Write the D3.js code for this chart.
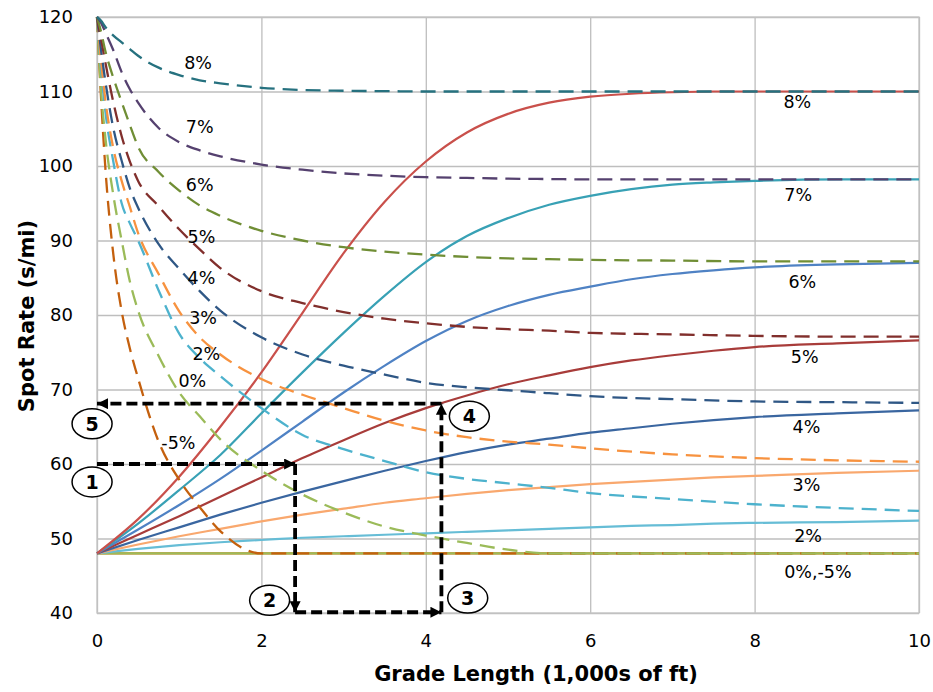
<!DOCTYPE html>
<html>
<head>
<meta charset="utf-8">
<script src="https://cdn.jsdelivr.net/npm/d3@7"></script>
<style>
  body { margin: 0; background: #fff; }
  svg { display: block; font-family: "DejaVu Sans", Verdana, sans-serif; }
</style>
</head>
<body>
<div id="chart"></div>
<script>
const lengthsFast = [0, 0.5, 1, 1.5, 2, 2.5, 3, 3.5, 4, 4.5, 5, 5.5, 6, 6.5, 7, 7.5, 8, 9, 10];
const lengthsSlow = [0, 0.05, 0.1, 0.2, 0.3, 0.4, 0.5, 0.75, 1, 1.25, 1.5, 2, 2.5, 3, 3.5, 4, 4.5, 5, 5.5, 6, 7, 8, 9, 10];

const grades = ["8%", "7%", "6%", "5%", "4%", "3%", "2%", "0%", "-5%"];

// truck entering the grade at 48 s/mi (solid lines)
const fast8 = [48, 52.6, 58.3, 65, 72.3, 80.3, 88.3, 95.2, 100.6, 104.5, 107, 108.5, 109.3, 109.7, 109.9, 110, 110, 110, 110];
const fast7 = [48, 52, 56.5, 61.2, 66.8, 72.3, 77.6, 82.6, 87.1, 90.6, 93, 94.8, 96, 96.9, 97.5, 97.8, 98, 98.2, 98.2];
const fast6 = [48, 51.2, 54.5, 58, 61.8, 65.7, 69.6, 73.2, 76.5, 79.2, 81.2, 82.7, 83.8, 84.8, 85.5, 86, 86.4, 86.8, 87];
const fast5 = [48, 50.5, 53, 55.6, 58.2, 60.8, 63.2, 65.5, 67.5, 69.2, 70.7, 71.9, 73, 73.9, 74.6, 75.2, 75.7, 76.2, 76.6];
const fast4 = [48, 49.8, 51.5, 53.2, 54.8, 56.3, 57.7, 59.1, 60.4, 61.6, 62.6, 63.4, 64.2, 64.8, 65.4, 65.9, 66.3, 66.8, 67.2];
const fast3 = [48, 49.2, 50.3, 51.3, 52.3, 53.2, 54, 54.8, 55.4, 56, 56.5, 56.9, 57.3, 57.6, 57.9, 58.2, 58.4, 58.8, 59.1];
const fast2 = [48, 48.6, 49.1, 49.5, 49.8, 50.1, 50.3, 50.5, 50.7, 50.9, 51.1, 51.3, 51.5, 51.7, 51.8, 52, 52.1, 52.2, 52.4];
const fast0 = [48, 48, 48, 48, 48, 48, 48, 48, 48, 48, 48, 48, 48, 48, 48, 48, 48, 48, 48];
const fastM5 = [48, 48, 48, 48, 48, 48, 48, 48, 48, 48, 48, 48, 48, 48, 48, 48, 48, 48, 48];

// truck entering the grade at 120 s/mi (dashed lines)
const slow8 = [120, 119.5, 118.7, 117.5, 116.6, 115.7, 114.8, 113.2, 112.2, 111.5, 111.1, 110.5, 110.2, 110.1, 110.05, 110, 110, 110, 110, 110, 110, 110, 110, 110];
const slow7 = [120, 119.2, 118, 115.5, 112.6, 110.3, 108.5, 105.1, 103.2, 102.1, 101.3, 100.2, 99.5, 99, 98.7, 98.5, 98.4, 98.3, 98.25, 98.2, 98.2, 98.2, 98.2, 98.2];
const slow6 = [120, 118, 115.5, 111.8, 108.6, 105.5, 102.6, 99.2, 96.7, 94.7, 93.3, 91.3, 90, 89.1, 88.5, 88.1, 87.8, 87.6, 87.5, 87.4, 87.3, 87.2, 87.2, 87.2];
const slow5 = [120, 117, 114, 108.5, 104, 100.6, 98, 94.6, 91.5, 88.8, 86.3, 83.2, 81.6, 80.4, 79.5, 78.9, 78.4, 78.1, 77.9, 77.6, 77.4, 77.2, 77.1, 77.1];
const slow4 = [120, 115.5, 111.5, 105, 100.7, 97, 94.4, 89.5, 86.2, 83.2, 80.6, 77, 74.7, 73.2, 72, 70.9, 70.3, 69.9, 69.5, 69.1, 68.7, 68.4, 68.3, 68.2];
const slow3 = [120, 114, 109, 102.3, 98, 94.5, 91, 85.5, 80.5, 77, 74.7, 71.4, 69.3, 67.5, 65.8, 64.5, 63.6, 63, 62.6, 62.1, 61.3, 60.8, 60.5, 60.3];
const slow2 = [120, 113, 107.5, 100.5, 95, 92.3, 90, 83.3, 77.5, 74.2, 71.8, 67.5, 63.9, 62, 60.4, 58.9, 58, 57.4, 56.8, 56.1, 55.3, 54.6, 54.1, 53.7];
const slow0 = [120, 110, 104, 96, 90, 84.5, 80.6, 74.5, 69.6, 66.4, 63.3, 59.1, 55.9, 53.5, 51.6, 50.4, 49.4, 48.5, 48, 48, 48, 48, 48, 48];
const slowM5 = [120, 109, 100, 88, 80.5, 75.5, 71.5, 63, 57.9, 54.2, 51, 48, 48, 48, 48, 48, 48, 48, 48, 48, 48, 48, 48, 48];

const xTicks = [0, 2, 4, 6, 8, 10];
const yTicks = [40, 50, 60, 70, 80, 90, 100, 110, 120];

// curve labels, in data units
const leftLabels = [
  {text: "8%", x: 1.23, y: 113.8}, {text: "7%", x: 1.25, y: 105.2}, {text: "6%", x: 1.25, y: 97.4},
  {text: "5%", x: 1.27, y: 90.5}, {text: "4%", x: 1.27, y: 85.0}, {text: "3%", x: 1.29, y: 79.6},
  {text: "2%", x: 1.33, y: 74.8}, {text: "0%", x: 1.16, y: 71.1}, {text: "-5%", x: 0.99, y: 62.8}
];
const rightLabels = [
  {text: "8%", x: 8.52, y: 108.6}, {text: "7%", x: 8.53, y: 96.1}, {text: "6%", x: 8.58, y: 84.4},
  {text: "5%", x: 8.61, y: 74.4}, {text: "4%", x: 8.63, y: 65.0}, {text: "3%", x: 8.63, y: 57.2},
  {text: "2%", x: 8.65, y: 50.3}, {text: "0%,-5%", x: 8.77, y: 45.5}
];

// worked example: the five steps
const steps = [
  {from: [0, 60], to: [2.41, 60]},
  {from: [2.41, 60], to: [2.41, 40.1]},
  {from: [2.41, 40.1], to: [4.19, 40.1]},
  {from: [4.19, 40.1], to: [4.19, 68.1]},
  {from: [4.19, 68.1], to: [0, 68.1]}
];
const stepBadges = [
  {n: "1", x: -0.06, y: 57.6}, {n: "2", x: 2.10, y: 41.7}, {n: "3", x: 4.51, y: 42.0},
  {n: "4", x: 4.53, y: 66.4}, {n: "5", x: -0.06, y: 65.4}
];

const fastColors = ["#C9504B", "#38A1B5", "#4F82C4", "#A83C3A", "#3A66A0", "#F9A86E", "#66BDD6", "#9BBB59", "#E46C0A"];
const slowColors = ["#26717F", "#55416F", "#708E35", "#812F2C", "#2F5785", "#F7923F", "#4DB2CD", "#9BBB59", "#C4600E"];

var chart = {};
chart.margins = {top: 17, right: 14, bottom: 79, left: 97};
chart.w = 933 - chart.margins.left - chart.margins.right;
chart.h = 692 - chart.margins.top - chart.margins.bottom;

chart.run = function () {
  let svg = d3.select("#chart").append("svg")
    .attr("width", 933)
    .attr("height", 692);

  let g = svg.append("g")
    .attr("transform", "translate(" + chart.margins.left + "," + chart.margins.top + ")");

  let x = d3.scaleLinear().domain([0, 10]).range([0, chart.w]);
  let y = d3.scaleLinear().domain([40, 120]).range([chart.h, 0]);

  // grid
  g.append("g")
    .attr("class", "grid")
    .attr("transform", "translate(0," + chart.h + ")")
    .call(d3.axisBottom(x).tickValues(xTicks).tickSize(-chart.h).tickFormat(""))
    .call(s => s.select(".domain").remove());
  g.append("g")
    .attr("class", "grid")
    .call(d3.axisLeft(y).tickValues(yTicks).tickSize(-chart.w).tickFormat(""))
    .call(s => s.select(".domain").remove());
  g.selectAll(".grid line").attr("stroke", "#BEBEBE").attr("stroke-width", 1.3);
  g.append("rect")
    .attr("width", chart.w).attr("height", chart.h)
    .attr("fill", "none").attr("stroke", "#C4C4C4").attr("stroke-width", 1.3);

  // tick labels
  g.append("g")
    .attr("transform", "translate(0," + chart.h + ")")
    .call(d3.axisBottom(x).tickValues(xTicks).tickSize(0).tickPadding(21))
    .call(s => s.select(".domain").remove())
    .selectAll("text").attr("font-size", 18).attr("font-family", "DejaVu Sans").attr("fill", "#000");
  g.append("g")
    .call(d3.axisLeft(y).tickValues(yTicks).tickSize(0).tickPadding(24))
    .call(s => s.select(".domain").remove())
    .selectAll("text").attr("font-size", 18).attr("font-family", "DejaVu Sans").attr("fill", "#000");

  // axis titles
  svg.append("text")
    .attr("x", 536)
    .attr("y", 681)
    .attr("text-anchor", "middle")
    .attr("font-size", 21).attr("font-weight", "bold")
    .text("Grade Length (1,000s of ft)");
  svg.append("text")
    .attr("transform", "translate(34,316) rotate(-90)")
    .attr("text-anchor", "middle")
    .attr("font-size", 21).attr("font-weight", "bold")
    .text("Spot Rate (s/mi)");

  const fastSeries = [fast8, fast7, fast6, fast5, fast4, fast3, fast2, fast0, fastM5];
  const slowSeries = [slow8, slow7, slow6, slow5, slow4, slow3, slow2, slow0, slowM5];

  let lineFast = d3.line()
    .x((d, i) => x(lengthsFast[i]))
    .y(d => y(d))
    .curve(d3.curveMonotoneX);
  let lineSlow = d3.line()
    .x((d, i) => x(lengthsSlow[i]))
    .y(d => y(d))
    .curve(d3.curveMonotoneX);

  let plot = g.append("g");
  // solid lines, red (8%) ends on top
  plot.selectAll("path.fast")
    .data(fastSeries.map((v, i) => ({v: v, i: i})).reverse())
    .enter().append("path")
    .attr("class", "fast")
    .attr("fill", "none")
    .attr("stroke", d => fastColors[d.i])
    .attr("stroke-width", 2.2)
    .attr("d", d => lineFast(d.v));

  plot.selectAll("path.slow")
    .data(slowSeries.map((v, i) => ({v: v, i: i})).reverse())
    .enter().append("path")
    .attr("class", "slow")
    .attr("fill", "none")
    .attr("stroke", d => slowColors[d.i])
    .attr("stroke-width", 2.3)
    .attr("stroke-dasharray", "15,8")
    .attr("d", d => lineSlow(d.v));

  // curve labels
  g.selectAll("text.lblL")
    .data(leftLabels).enter().append("text")
    .attr("class", "lblL")
    .attr("x", d => x(d.x)).attr("y", d => y(d.y))
    .attr("dy", "0.35em")
    .attr("text-anchor", "middle")
    .attr("font-size", 17.5)
    .text(d => d.text);
  g.selectAll("text.lblR")
    .data(rightLabels).enter().append("text")
    .attr("class", "lblR")
    .attr("x", d => x(d.x)).attr("y", d => y(d.y))
    .attr("dy", "0.35em")
    .attr("text-anchor", "middle")
    .attr("font-size", 17.5)
    .text(d => d.text);

  // step arrows
  svg.append("defs").append("marker")
    .attr("id", "head")
    .attr("viewBox", "0 0 10 10")
    .attr("refX", 10).attr("refY", 5)
    .attr("markerWidth", 13).attr("markerHeight", 11)
    .attr("markerUnits", "userSpaceOnUse")
    .attr("orient", "auto")
    .append("path").attr("d", "M0,0L10,5L0,10Z").attr("fill", "#000");

  g.selectAll("path.step")
    .data(steps).enter().append("path")
    .attr("class", "step")
    .attr("fill", "none")
    .attr("stroke", "#000")
    .attr("stroke-width", 3.8)
    .attr("stroke-dasharray", "11,5")
    .attr("marker-end", "url(#head)")
    .attr("d", function (d) {
      let x0 = x(d.from[0]), y0 = y(d.from[1]);
      let x1 = x(d.to[0]), y1 = y(d.to[1]);
      return "M" + x0 + "," + y0 + "L" + x1 + "," + y1;
    });

  let badge = g.selectAll("g.badge")
    .data(stepBadges).enter().append("g")
    .attr("class", "badge")
    .attr("transform", d => "translate(" + x(d.x) + "," + y(d.y) + ")");
  badge.append("ellipse")
    .attr("rx", 20).attr("ry", 15)
    .attr("fill", "#fff").attr("stroke", "#000").attr("stroke-width", 1.5);
  badge.append("text")
    .attr("text-anchor", "middle")
    .attr("dy", "0.37em")
    .attr("font-size", 19).attr("font-weight", "bold")
    .text(d => d.n);
};

window.onload = chart.run;
</script>
</body>
</html>
